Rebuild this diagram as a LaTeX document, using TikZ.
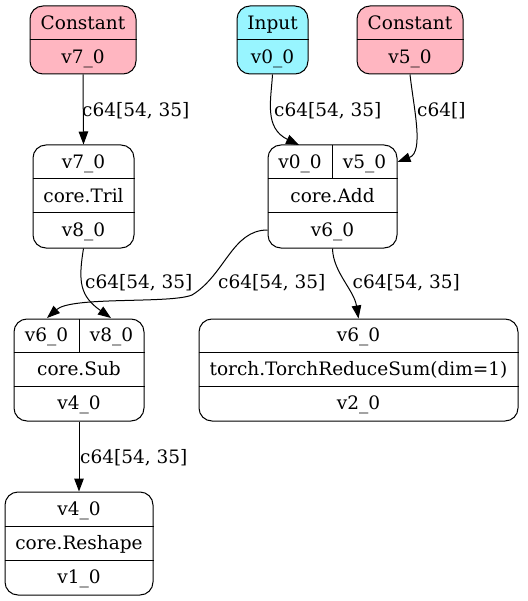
\documentclass[tikz,border=0pt]{standalone}
\usepackage{fontspec}
\setmainfont{DejaVu Serif}
\usetikzlibrary{arrows.meta}
\definecolor{constfill}{HTML}{FFB6C1}
\definecolor{inputfill}{HTML}{98F5FF}
\tikzset{
  rec/.style={draw, rounded corners=13pt, line width=1pt, inner sep=0pt},
  cell/.style={inner sep=0pt, anchor=base, font=\fontsize{18.5}{20}\selectfont},
  elabel/.style={inner sep=0pt, anchor=base west, font=\fontsize{18.5}{20}\selectfont},
  edge/.style={line width=1pt, -{Triangle[length=13pt,width=9.5pt]}},
  divider/.style={line width=1pt}
}
\begin{document}
\begin{tikzpicture}[x=1pt, y=-1pt]
\useasboundingbox (0,0) rectangle (527,601);

% --- constant and input records
\node[rec, fill=constfill, minimum width=106pt, minimum height=68pt] (c7) at (83,40) {};
\draw[divider] (c7.west |- 0,40) -- (c7.east |- 0,40);
\node[cell] (c7a) at (83,29.3) {Constant};
\node[cell] (c7b) at (83,63.3) {v7\_0};

\node[rec, fill=inputfill, minimum width=71pt, minimum height=68pt] (in) at (272.5,40) {};
\draw[divider] (in.west |- 0,40) -- (in.east |- 0,40);
\node[cell] (ina) at (272.5,29.3) {Input};
\node[cell] (inb) at (272.5,63.3) {v0\_0};

\node[rec, fill=constfill, minimum width=106pt, minimum height=68pt] (c5) at (410,40) {};
\draw[divider] (c5.west |- 0,40) -- (c5.east |- 0,40);
\node[cell] (c5a) at (410,29.3) {Constant};
\node[cell] (c5b) at (410,63.3) {v5\_0};

% --- core.Tril
\node[rec, minimum width=101pt, minimum height=103pt] (tril) at (83.5,196.5) {};
\draw[divider] (tril.west |- 0,179) -- (tril.east |- 0,179);
\draw[divider] (tril.west |- 0,213) -- (tril.east |- 0,213);
\node[cell] (trila) at (83.5,168.3) {v7\_0};
\node[cell] (trilb) at (83.5,202.3) {core.Tril};
\node[cell] (trilc) at (83.5,236.8) {v8\_0};

% --- core.Add
\node[rec, minimum width=129pt, minimum height=103pt] (add) at (332.5,196.5) {};
\draw[divider] (add.west |- 0,179) -- (add.east |- 0,179);
\draw[divider] (add.west |- 0,213) -- (add.east |- 0,213);
\draw[divider] (332,145) -- (332,179);
\node[cell] (adda) at (300,168.3) {v0\_0};
\node[cell] (addb) at (364.5,168.3) {v5\_0};
\node[cell] (addc) at (332.5,202.3) {core.Add};
\node[cell] (addd) at (332.5,236.8) {v6\_0};

% --- core.Sub
\node[rec, minimum width=130pt, minimum height=102pt] (sub) at (79,370) {};
\draw[divider] (sub.west |- 0,352) -- (sub.east |- 0,352);
\draw[divider] (sub.west |- 0,386) -- (sub.east |- 0,386);
\draw[divider] (79,319) -- (79,352);
\node[cell] (suba) at (46.5,341.8) {v6\_0};
\node[cell] (subb) at (111.5,341.8) {v8\_0};
\node[cell] (subc) at (79,375.3) {core.Sub};
\node[cell] (subd) at (79,409.8) {v4\_0};

% --- torch.TorchReduceSum
\node[rec, minimum width=319pt, minimum height=102pt] (red) at (358.5,370) {};
\draw[divider] (red.west |- 0,352) -- (red.east |- 0,352);
\draw[divider] (red.west |- 0,386) -- (red.east |- 0,386);
\node[cell] (reda) at (358.5,341.8) {v6\_0};
\node[cell] (redb) at (358.5,375.3) {torch.TorchReduceSum(dim=1)};
\node[cell] (redc) at (358.5,409.8) {v2\_0};

% --- core.Reshape
\node[rec, minimum width=148pt, minimum height=103pt] (resh) at (79,543.5) {};
\draw[divider] (resh.west |- 0,526) -- (resh.east |- 0,526);
\draw[divider] (resh.west |- 0,560) -- (resh.east |- 0,560);
\node[cell] (resha) at (79,515.3) {v4\_0};
\node[cell] (reshb) at (79,549.3) {core.Reshape};
\node[cell] (reshc) at (79,583.8) {v1\_0};

% --- ports
\coordinate (addp0) at (299,145);
\coordinate (addp5) at (add.east |- 0,162);
\coordinate (addout) at (add.west |- 0,230);
\coordinate (subp6) at (47,318);
\coordinate (subp8) at (111,318);

% --- connectors
\draw[edge] (c7.south) -- (tril.north);
\draw[edge] (in.south) .. controls (271,100) and (264,128) .. (addp0);
\draw[edge] (c5.south) .. controls (414,110) and (424,152) .. (addp5);
\draw[edge] (tril.south) .. controls (78,282) and (80,296) .. (subp8);
\draw[edge] (addout) .. controls (232,230) and (225,275) .. (192,295)
                     .. controls (170,304) and (72,296) .. (subp6);
\draw[edge] (add.south) .. controls (333,272) and (354,290) .. (red.north);
\draw[edge] (sub.south) -- (resh.north);

% --- connector labels
\node[elabel] (l1) at (82,117) {c64[54, 35]};
\node[elabel] (l2) at (274,117) {c64[54, 35]};
\node[elabel] (l3) at (417,117) {c64[]};
\node[elabel] (l4) at (85,288) {c64[54, 35]};
\node[elabel] (l5) at (218,288) {c64[54, 35]};
\node[elabel] (l6) at (352.5,288) {c64[54, 35]};
\node[elabel] (l7) at (80,463) {c64[54, 35]};
\end{tikzpicture}
\end{document}
